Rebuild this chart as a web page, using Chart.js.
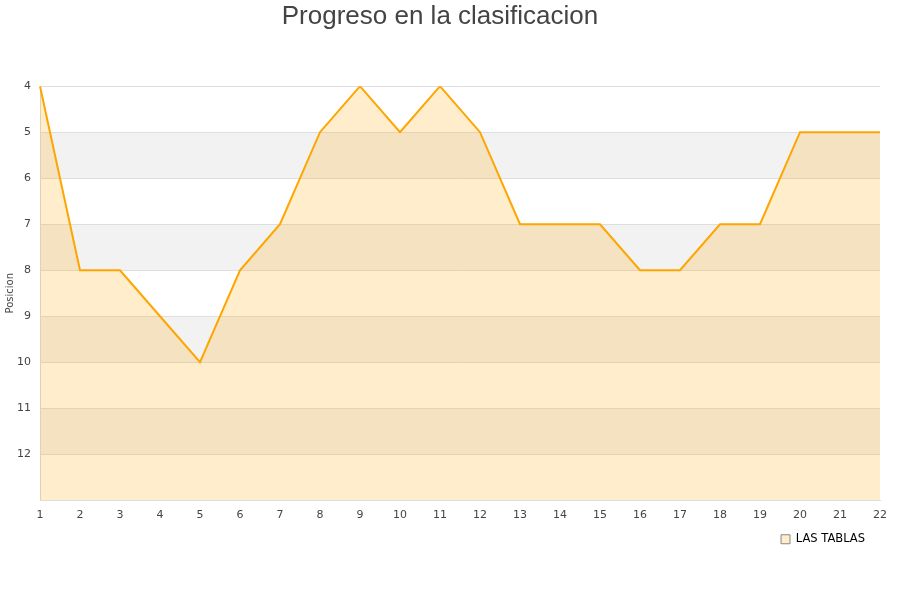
<!DOCTYPE html>
<html>
<head>
<meta charset="utf-8">
<script src="https://cdn.jsdelivr.net/npm/chart.js@4.4.0/dist/chart.umd.min.js"></script>
<style>
  html, body { margin: 0; padding: 0; background: #fff; }
  #wrap { width: 900px; height: 600px; }
</style>
</head>
<body>
<div id="wrap"><canvas id="chart" width="900" height="600"></canvas></div>
<script>
const jornadas = ['1','2','3','4','5','6','7','8','9','10','11','12','13','14','15','16','17','18','19','20','21','22'];
const posiciones = [4, 8, 8, 9, 10, 8, 7, 5, 4, 5, 4, 5, 7, 7, 7, 8, 8, 7, 7, 5, 5, 5];
const equipo = 'LAS TABLAS';
const titulo = 'Progreso en la clasificacion';

// grey bands between every other row
const bandPlugin = {
  id: 'bands',
  beforeDraw(chart) {
    const { ctx, chartArea, scales } = chart;
    const y = scales.y;
    ctx.save();
    ctx.fillStyle = '#f2f2f2';
    for (let v = 5; v < 13; v += 2) {
      const top = y.getPixelForValue(v);
      const bot = y.getPixelForValue(v + 1);
      ctx.fillRect(chartArea.left, top, chartArea.right - chartArea.left, bot - top);
    }
    ctx.restore();
  }
};

// nudge the legend a little up and left
const legendNudge = {
  id: 'legendNudge',
  afterLayout(chart) {
    const lg = chart.legend;
    lg.left -= 9; lg.right -= 9;
    lg.top -= 2; lg.bottom -= 2;
  }
};

new Chart(document.getElementById('chart').getContext('2d'), {
  type: 'line',
  data: {
    labels: jornadas,
    datasets: [{
      label: equipo,
      data: posiciones,
      borderColor: '#ffa500',
      backgroundColor: 'rgba(255, 165, 0, 0.2)',
      borderWidth: 2,
      pointRadius: 0,
      tension: 0,
      fill: { value: 13 }
    }]
  },
  options: {
    responsive: false,
    animation: false,
    layout: { padding: { left: 0, right: 20, top: 1, bottom: 43 } },
    plugins: {
      title: {
        display: true,
        text: titulo,
        color: '#444',
        font: { family: 'Liberation Sans, Arial, sans-serif', size: 26, weight: 'normal' },
        padding: { top: 0, bottom: 54 }
      },
      legend: {
        position: 'bottom',
        align: 'end',
        labels: {
          color: '#222',
          boxWidth: 9,
          boxHeight: 9,
          padding: 6,
          font: { family: 'DejaVu Sans', size: 11.5 },
          generateLabels(chart) {
            return [{
              text: equipo,
              fillStyle: '#ffedcc',
              strokeStyle: '#888',
              lineWidth: 1,
              datasetIndex: 0
            }];
          }
        }
      },
      tooltip: { enabled: false }
    },
    scales: {
      x: {
        offset: false,
        grid: { display: false, drawTicks: false },
        border: { color: '#ddd' },
        ticks: { color: '#444', font: { family: 'DejaVu Sans', size: 11 }, padding: 8, maxRotation: 0, autoSkip: false }
      },
      y: {
        reverse: true,
        min: 4,
        max: 13,
        afterFit(scale) { scale.width = 40; },
        title: { display: true, text: 'Posicion', color: '#444', font: { family: 'DejaVu Sans', size: 10 }, padding: { top: 4, bottom: 0 } },
        grid: { color: '#dedede', drawTicks: false },
        border: { color: '#ddd' },
        ticks: {
          stepSize: 1,
          color: '#444',
          padding: 9,
          font: { family: 'DejaVu Sans', size: 11 },
          callback: v => (v === 13 ? '' : v)
        }
      }
    }
  },
  plugins: [bandPlugin, legendNudge]
});
</script>
</body>
</html>
